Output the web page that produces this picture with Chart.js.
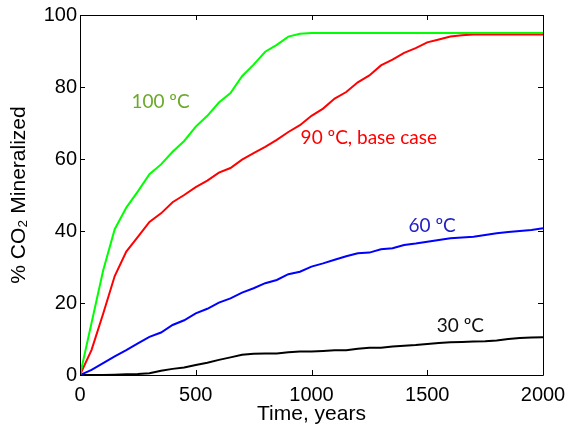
<!DOCTYPE html>
<html>
<head>
<meta charset="utf-8">
<script src="https://cdn.jsdelivr.net/npm/chart.js@4/dist/chart.umd.min.js"></script>
<style>
html,body{margin:0;padding:0;background:#fff;}
#wrap{width:568px;height:432px;}
</style>
</head>
<body>
<div id="wrap"><canvas id="c" width="568" height="432"></canvas></div>
<script>
const years = [0,50,100,150,200,250,300,350,400,450,500,550,600,650,700,750,800,850,900,950,1000,1050,1100,1150,1200,1250,1300,1350,1400,1450,1500,1550,1600,1650,1700,1750,1800,1850,1900,1950,2000];
const t100 = [0,14.5,29,40.5,46.5,51,55.8,58.5,62,65,69,72,75.7,78.3,83,86.2,89.8,91.7,94,94.8,95,95,95,95,95,95,95,95,95,95,95,95,95,95,95,95,95,95,95,95,95];
const t90  = [0,7,17,27.5,34.3,38.4,42.5,44.9,48,50,52.2,54,56.2,57.5,59.8,61.6,63.4,65.3,67.5,69.4,72,74,76.8,78.6,81.3,83.2,86,87.6,89.5,90.8,92.4,93.2,94,94.4,94.6,94.6,94.6,94.6,94.6,94.6,94.6];
const t60  = [0,1.4,3.3,5.2,6.9,8.8,10.6,11.8,13.9,15.2,17.1,18.4,20.1,21.3,22.9,24.1,25.5,26.4,28,28.7,30.1,31,32,33,33.8,34,34.9,35.2,36.1,36.5,37,37.5,38,38.2,38.4,38.9,39.4,39.7,40,40.3,40.8];
const t30  = [0,0,0,0.1,0.2,0.3,0.5,1.2,1.7,2.1,2.8,3.4,4.2,4.9,5.6,5.9,6.0,6.0,6.3,6.5,6.5,6.7,6.9,6.9,7.3,7.6,7.6,7.9,8.1,8.3,8.6,8.9,9.1,9.2,9.3,9.4,9.6,10,10.3,10.4,10.5];
const xTicks = [0,500,1000,1500,2000];
const yTicks = [0,20,40,60,80,100];
const labels = [
  {text:'100 ºC', x:222, y:76, color:'#6aaa2a'},
  {text:'90 ºC, base case', x:953, y:65.8, color:'#ff0000'},
  {text:'60 ºC', x:1419, y:41.5, color:'#2222c8'},
  {text:'30 ºC', x:1541, y:13.6, color:'#111111'}
];

const pts = arr => arr.map((v,i)=>({x:years[i], y:v}));

const framePlugin = {
  id:'frame',
  afterDraw(chart){
    const {ctx, chartArea:a, scales:{x, y}} = chart;
    ctx.save();
    ctx.strokeStyle = '#000';
    ctx.lineWidth = 1;
    ctx.beginPath();
    ctx.rect(Math.round(a.left)+0.5, Math.round(a.top)+0.5, Math.round(a.right-a.left), Math.round(a.bottom-a.top));
    ctx.stroke();
    const L = 5;
    ctx.beginPath();
    xTicks.forEach(v=>{
      const px = Math.round(x.getPixelForValue(v))+0.5;
      ctx.moveTo(px, a.bottom); ctx.lineTo(px, a.bottom-L);
      ctx.moveTo(px, a.top); ctx.lineTo(px, a.top+L);
    });
    yTicks.forEach(v=>{
      const py = Math.round(y.getPixelForValue(v))+0.5;
      ctx.moveTo(a.left, py); ctx.lineTo(a.left+L, py);
      ctx.moveTo(a.right, py); ctx.lineTo(a.right-L, py);
    });
    ctx.stroke();
    ctx.font = '19px Lato, "Open Sans", sans-serif';
    ctx.textBaseline = 'middle';
    ctx.textAlign = 'left';
    labels.forEach(l=>{
      ctx.fillStyle = l.color;
      ctx.fillText(l.text, x.getPixelForValue(l.x), y.getPixelForValue(l.y));
    });
    ctx.restore();
  }
};

const axisFont = {family:'"Liberation Sans", Arial, sans-serif', size:20};
const titleFont = {family:'"Liberation Sans", Arial, sans-serif', size:21};

new Chart(document.getElementById('c'), {
  type:'line',
  data:{
    datasets:[
      {label:'100 ºC', data:pts(t100), borderColor:'#00ff00'},
      {label:'90 ºC', data:pts(t90), borderColor:'#ff0000'},
      {label:'60 ºC', data:pts(t60), borderColor:'#0000ff'},
      {label:'30 ºC', data:pts(t30), borderColor:'#000000'}
    ]
  },
  options:{
    responsive:false,
    animation:false,
    devicePixelRatio:1,
    layout:{padding:{left:0, top:15, right:25, bottom:0}},
    elements:{line:{borderWidth:2, tension:0}, point:{radius:0}},
    plugins:{legend:{display:false}, tooltip:{enabled:false}},
    scales:{
      x:{
        type:'linear', min:0, max:2000,
        afterBuildTicks: s => { s.ticks = xTicks.map(v=>({value:v})); },
        afterFit: s => { s.height = 57; s.paddingLeft = 0; s.paddingRight = 0; },
        grid:{display:false, drawTicks:false},
        border:{display:false},
        ticks:{color:'#000', font:axisFont, padding:8, maxRotation:0, callback: v => String(v)},
        title:{display:true, text:'Time, years', color:'#000', font:titleFont, padding:{top:0, bottom:5}}
      },
      y:{
        type:'linear', min:0, max:100,
        afterBuildTicks: s => { s.ticks = yTicks.map(v=>({value:v})); },
        afterFit: s => { s.width = 80; s.paddingTop = 0; s.paddingBottom = 0; },
        grid:{display:false, drawTicks:false},
        border:{display:false},
        ticks:{color:'#000', font:axisFont, padding:3, callback: v => String(v)},
        title:{display:true, text:'% CO₂ Mineralized', color:'#000', font:titleFont, padding:{top:7, bottom:0}}
      }
    }
  },
  plugins:[framePlugin]
});
</script>
</body>
</html>
